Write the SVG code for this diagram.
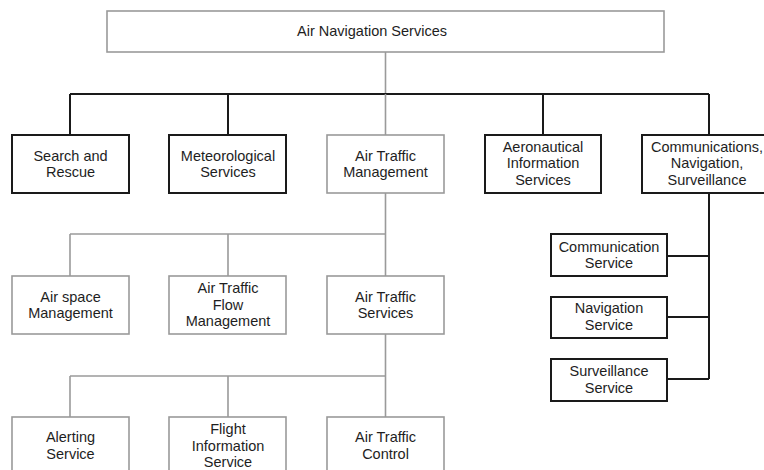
<svg xmlns="http://www.w3.org/2000/svg" width="764" height="470" viewBox="0 0 764 470">
  <style>
    .dark { fill: #ffffff; stroke: #1a1a1a; stroke-width: 2; }
    .light { fill: #ffffff; stroke: #9a9a9a; stroke-width: 1.6; }
    .cd { fill: none; stroke: #1a1a1a; stroke-width: 2; }
    .cl { fill: none; stroke: #9a9a9a; stroke-width: 1.6; }
    text { font-family: "Liberation Sans", Arial, sans-serif; font-size: 14.5px; fill: #1e1e1e; text-anchor: middle; }
  </style>
  <rect width="764" height="470" fill="#ffffff"/>

  <g id="connectors">
    <!-- root to first-level bus -->
    <path class="cl" d="M385.5 52 V94"/>
    <path class="cd" d="M70 94 H709 M70 94 V135 M228 94 V135 M543 94 V135 M709 94 V135"/>
    <!-- Air Traffic Management branch -->
    <path class="cl" d="M385.5 94 V276 M70 234 H385.5 M70 234 V276 M228 234 V276"/>
    <!-- Air Traffic Services branch -->
    <path class="cl" d="M385.5 334 V417 M70 376 H385.5 M70 376 V417 M228 376 V417"/>
    <!-- CNS branch -->
    <path class="cd" d="M709 193 V379 M667 256 H709 M667 317 H709 M667 379 H709"/>
  </g>

  <g id="ans">
    <rect class="light" x="107" y="11" width="557" height="41"/>
    <text x="372" y="36">Air Navigation Services</text>
  </g>

  <g id="sar">
    <rect class="dark" x="12" y="135" width="117" height="58"/>
    <text x="70.5" y="161">Search and</text>
    <text x="70.5" y="177">Rescue</text>
  </g>
  <g id="met">
    <rect class="dark" x="169" y="135" width="117" height="58"/>
    <text x="228" y="161">Meteorological</text>
    <text x="228" y="177">Services</text>
  </g>
  <g id="atm">
    <rect class="light" x="327" y="135" width="117" height="58"/>
    <text x="385.5" y="161">Air Traffic</text>
    <text x="385.5" y="177">Management</text>
  </g>
  <g id="ais">
    <rect class="dark" x="485" y="135" width="116" height="58"/>
    <text x="543" y="152">Aeronautical</text>
    <text x="543" y="168">Information</text>
    <text x="543" y="185">Services</text>
  </g>
  <g id="cns">
    <rect class="dark" x="642" y="135" width="134" height="58"/>
    <text x="707" y="152">Communications,</text>
    <text x="707" y="168">Navigation,</text>
    <text x="707" y="185">Surveillance</text>
  </g>

  <g id="asm">
    <rect class="light" x="12" y="276" width="117" height="58"/>
    <text x="70.5" y="302">Air space</text>
    <text x="70.5" y="318">Management</text>
  </g>
  <g id="atfm">
    <rect class="light" x="169" y="276" width="117" height="58"/>
    <text x="228" y="293">Air Traffic</text>
    <text x="228" y="310">Flow</text>
    <text x="228" y="326">Management</text>
  </g>
  <g id="ats">
    <rect class="light" x="327" y="276" width="117" height="58"/>
    <text x="385.5" y="302">Air Traffic</text>
    <text x="385.5" y="318">Services</text>
  </g>

  <g id="alrs">
    <rect class="light" x="12" y="417" width="117" height="70"/>
    <text x="70.5" y="442">Alerting</text>
    <text x="70.5" y="459">Service</text>
  </g>
  <g id="fis">
    <rect class="light" x="169" y="417" width="117" height="70"/>
    <text x="228" y="434">Flight</text>
    <text x="228" y="451">Information</text>
    <text x="228" y="467">Service</text>
  </g>
  <g id="atc">
    <rect class="light" x="327" y="417" width="117" height="70"/>
    <text x="385.5" y="442">Air Traffic</text>
    <text x="385.5" y="459">Control</text>
  </g>

  <g id="com">
    <rect class="dark" x="551" y="234" width="116" height="42"/>
    <text x="609" y="252">Communication</text>
    <text x="609" y="268">Service</text>
  </g>
  <g id="nav">
    <rect class="dark" x="551" y="297" width="116" height="41"/>
    <text x="609" y="313">Navigation</text>
    <text x="609" y="330">Service</text>
  </g>
  <g id="sur">
    <rect class="dark" x="551" y="359" width="116" height="42"/>
    <text x="609" y="376">Surveillance</text>
    <text x="609" y="393">Service</text>
  </g>
</svg>
